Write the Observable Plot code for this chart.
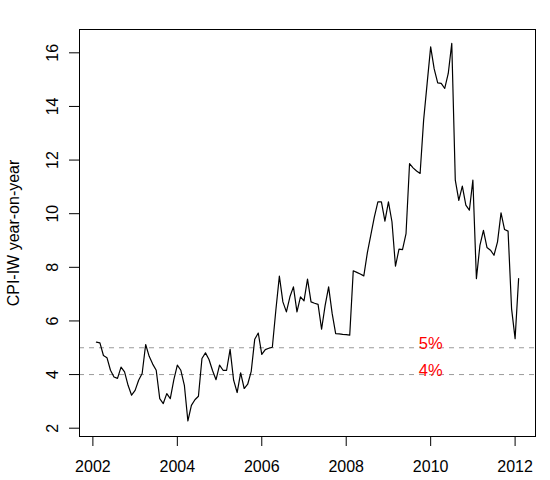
<!DOCTYPE html>
<html>
<head>
<meta charset="utf-8">
<script src="https://cdn.jsdelivr.net/npm/d3@7"></script>
<script src="https://cdn.jsdelivr.net/npm/@observablehq/plot@0.6"></script>
<style>
  html, body { margin: 0; padding: 0; background: #fff; }
</style>
</head>
<body>
<div id="chart"></div>
<script>
// Monthly series, first observation February 2002
const startYear = 2002;
const startMonth = 2;
const cpi2002 = [5.21, 5.18, 4.71, 4.63, 4.16, 3.91, 3.86, 4.28, 4.10, 3.60, 3.23];
const cpi2003 = [3.41, 3.79, 4.04, 5.12, 4.68, 4.39, 4.16, 3.10, 2.92, 3.29, 3.10, 3.80];
const cpi2004 = [4.35, 4.16, 3.60, 2.27, 2.85, 3.06, 3.19, 4.60, 4.81, 4.56, 4.15, 3.81];
const cpi2005 = [4.35, 4.16, 4.16, 4.94, 3.79, 3.33, 4.06, 3.48, 3.64, 4.12, 5.32, 5.55];
const cpi2006 = [4.75, 4.93, 4.98, 5.02, 6.40, 7.67, 6.71, 6.34, 6.90, 7.27, 6.34, 6.90];
const cpi2007 = [6.75, 7.56, 6.71, 6.66, 6.62, 5.69, 6.57, 7.27, 6.28, 5.53, 5.52, 5.50];
const cpi2008 = [5.49, 5.47, 7.87, 7.81, 7.75, 7.68, 8.54, 9.21, 9.88, 10.44, 10.44, 9.72];
const cpi2009 = [10.44, 9.70, 8.04, 8.68, 8.66, 9.26, 11.87, 11.71, 11.59, 11.50, 13.49, 14.86];
const cpi2010 = [16.22, 15.40, 14.88, 14.86, 14.67, 15.23, 16.35, 11.25, 10.50, 11.03, 10.32, 10.13];
const cpi2011 = [11.25, 7.58, 8.82, 9.38, 8.74, 8.64, 8.45, 8.95, 10.03, 9.41, 9.35, 6.45];
const cpi2012 = [5.34, 7.58];

const xTicks = [2002, 2004, 2006, 2008, 2010, 2012];
const yTicks = [2, 4, 6, 8, 10, 12, 14, 16];
const refLevels = [5, 4];
const refLabels = ["5%", "4%"];
const refLabelYear = 2010;
const yTitle = "CPI-IW year-on-year";

const values = [].concat(cpi2002, cpi2003, cpi2004, cpi2005, cpi2006, cpi2007,
                         cpi2008, cpi2009, cpi2010, cpi2011, cpi2012);
const data = values.map((v, i) => ({ t: startYear + (startMonth - 1 + i) / 12, v }));

const font = "'Liberation Sans', Arial, Helvetica, sans-serif";

const chart = Plot.plot({
  width: 550,
  height: 480,
  marginLeft: 79,
  marginRight: 15,
  marginTop: 29,
  marginBottom: 44,
  style: { fontFamily: font, fontSize: "16px", background: "#fff", color: "#000", overflow: "visible" },
  x: { domain: [2001.683, 2012.483], ticks: xTicks, tickSize: 10, tickPadding: 14.5, tickFormat: d => String(d), label: null },
  y: { domain: [1.69, 16.87], ticks: yTicks, tickSize: 10, tickFormat: () => "", label: null },
  marks: [
    Plot.ruleY(refLevels, { y: d => d, stroke: "#9a9a9a", strokeWidth: 1, strokeDasharray: "5,5" }),
    Plot.line(data, { x: "t", y: "v", stroke: "#000", strokeWidth: 1.2 }),
    Plot.text(refLevels, { x: () => refLabelYear, y: d => d, text: (d, i) => refLabels[i],
      fill: "#ff0000", lineAnchor: "bottom", textAnchor: "middle", dy: 1, fontSize: 16.5 }),
    Plot.frame({ stroke: "#000", strokeWidth: 1 }),
    Plot.text(yTicks, { y: d => d, text: d => String(d), frameAnchor: "left", dx: -22,
      rotate: -90, textAnchor: "middle", lineAnchor: "bottom" }),
    Plot.text([yTitle], { text: d => d, frameAnchor: "left", dx: -61,
      rotate: -90, textAnchor: "middle", lineAnchor: "bottom" })
  ]
});

document.getElementById("chart").appendChild(chart);
</script>
</body>
</html>
